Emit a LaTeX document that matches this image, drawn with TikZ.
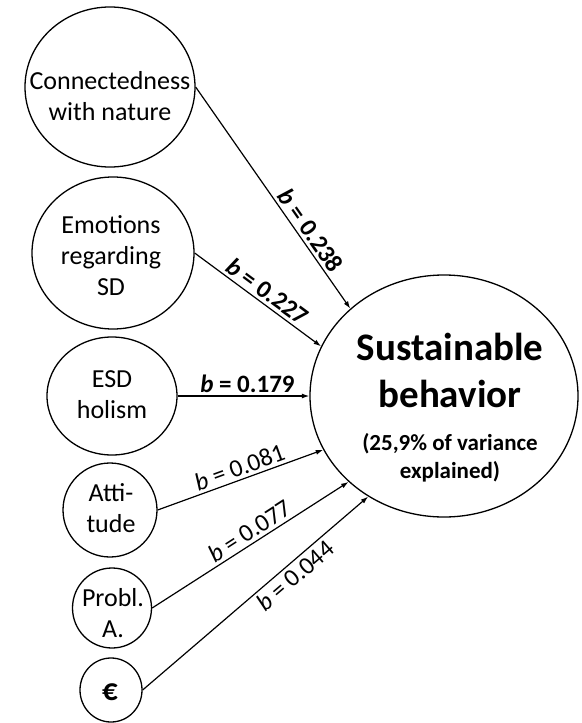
\documentclass[tikz,border=0pt]{standalone}
\usepackage{fontspec}
\setmainfont{Carlito}
\usetikzlibrary{shapes.geometric,arrows.meta}
\begin{document}
\begin{tikzpicture}[x=1bp,y=-1bp,
  circ/.style={draw, ellipse, line width=1.3bp, inner sep=0pt},
  txt/.style={align=center, font=\fontsize{26bp}{31bp}\selectfont, inner sep=0pt},
  arr/.style={-{Latex[length=7.5bp,width=5bp]}, line width=1.2bp},
  coef/.style={sloped, above, inner sep=3bp, font=\fontsize{25bp}{30bp}\selectfont},
  coefb/.style={coef, font=\fontsize{25bp}{30bp}\selectfont\bfseries}
]
\useasboundingbox (0,0) rectangle (582,723);

\node[circ, minimum width=170bp, minimum height=160bp] (conn) at (110,87) {};
\node[txt] (conn-t) at (110,96) {Connectedness\\with nature};
\node[circ, minimum width=162bp, minimum height=152bp] (emo) at (113,253) {};
\node[txt] (emo-t) at (111,256) {Emotions\\regarding\\SD};
\node[circ, minimum width=130bp, minimum height=118bp] (esd) at (112,396) {};
\node[txt] (esd-t) at (112,395) {ESD\\holism};
\node[circ, minimum width=94bp, minimum height=94bp] (att) at (110,510) {};
\node[txt] (att-t) at (111,508) {Atti-\\tude};
\node[circ, minimum width=79bp, minimum height=80bp] (prob) at (112,608) {};
\node[txt] (prob-t) at (113,613) {Probl.\\A.};
\node[circ, minimum width=62bp, minimum height=64bp] (eur) at (111,690) {};
\node[txt, font=\fontsize{31bp}{36bp}\selectfont\bfseries] (eur-t) at (110,692) {€};

\node[circ, minimum width=268bp, minimum height=242bp] (sb) at (444,396) {};
\node[align=center, font=\fontsize{39bp}{47bp}\selectfont\bfseries, inner sep=0pt] (sb-t) at (450,370) {Sustainable\\behavior};
\node[align=center, font=\fontsize{23bp}{28bp}\selectfont\bfseries, inner sep=0pt] (sb-s) at (450,458) {(25,9\% of variance\\explained)};

\draw[arr] (conn.east) -- node[coefb, pos=0.68] {\textit{b} = 0.238} (sb.137);
\draw[arr] (emo.east) -- node[coefb, pos=0.52] {\textit{b} = 0.227} (sb.158);
\draw[arr] (esd.east) -- node[coefb, pos=0.53] {\textit{b} = 0.179} (sb.180);
\draw[arr] (att.east) -- node[coef, pos=0.52] {\textit{b} = 0.081} (sb.204);
\draw[arr] (prob.east) -- node[coef, pos=0.53] {\textit{b} = 0.077} (sb.222);
\draw[arr] (eur.east) -- node[coef, below, pos=0.64] {\textit{b} = 0.044} (sb.233);
\end{tikzpicture}
\end{document}
